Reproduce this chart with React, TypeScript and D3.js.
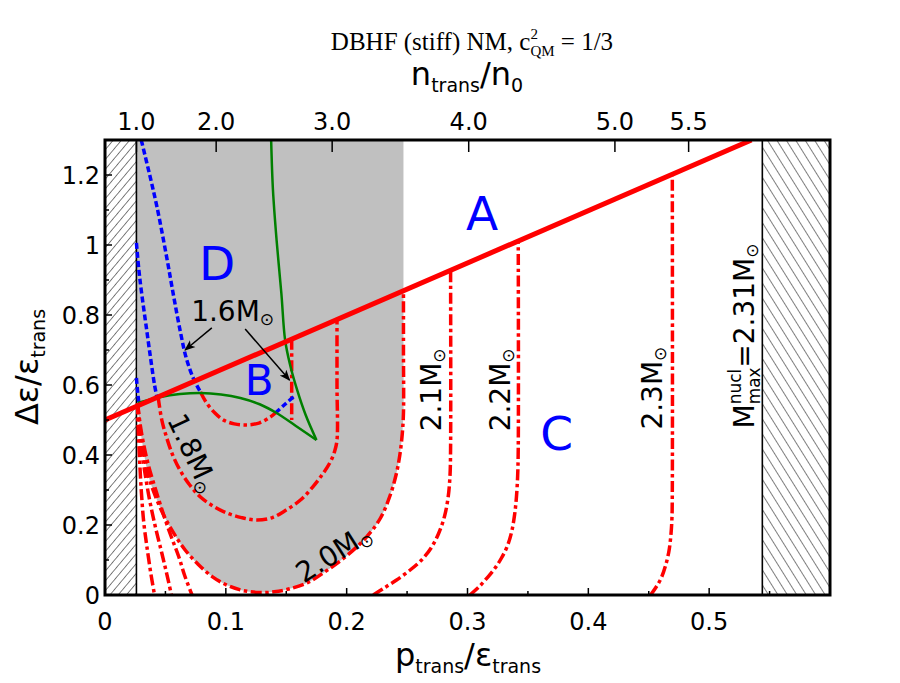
import React from 'react';
import * as d3 from 'd3';

// axes: p_trans/eps_trans (bottom), delta eps / eps_trans (left), n_trans/n0 (top)
const xDomain = [0, 0.6];
const yDomain = [0, 1.3];
const xTicks = [0, 0.1, 0.2, 0.3, 0.4, 0.5];
const xMinor = [0.05, 0.15, 0.25, 0.35, 0.45, 0.55];
const yTicks = [0, 0.2, 0.4, 0.6, 0.8, 1, 1.2];
const yMinor = [0.1, 0.3, 0.5, 0.7, 0.9, 1.1];
const topTickLabels = ['1.0', '2.0', '3.0', '4.0', '5.0', '5.5'];
const topTickPos = [0.026, 0.092, 0.188, 0.301, 0.422, 0.483];

const leftLimit = 0.026;   // n_trans = n0
const rightLimit = 0.544;  // M_max of nucleonic EoS

// Seidov line
const critLine = [[0, 0.5], [0.535, 1.3]];

// mass contours (red dash-dot)
const m16Red = [[0.079, 0.58], [0.084, 0.549], [0.091, 0.52], [0.098, 0.5], [0.107, 0.489], [0.117, 0.486], [0.128, 0.492], [0.137, 0.509], [0.141, 0.52]];
const m16Vert = [[0.1545, 0.732], [0.1545, 0.5]];
const m18 = [[0.044, 0.566], [0.047, 0.5], [0.051, 0.45], [0.056, 0.4], [0.062, 0.357], [0.07, 0.315], [0.079, 0.28], [0.09, 0.253], [0.101, 0.234], [0.113, 0.221], [0.126, 0.214], [0.139, 0.222], [0.15, 0.243], [0.162, 0.272], [0.172, 0.309], [0.18, 0.345], [0.186, 0.377], [0.19, 0.41], [0.192, 0.443], [0.192, 0.6], [0.192, 0.788]];
const m20 = [[0.027, 0.548], [0.029, 0.48], [0.032, 0.41], [0.036, 0.34], [0.042, 0.28], [0.049, 0.225], [0.057, 0.176], [0.066, 0.13], [0.077, 0.088], [0.089, 0.052], [0.101, 0.028], [0.114, 0.013], [0.128, 0.007], [0.14, 0.009], [0.152, 0.017], [0.168, 0.036], [0.184, 0.071], [0.2, 0.112], [0.216, 0.164], [0.228, 0.22], [0.236, 0.285], [0.241, 0.345], [0.244, 0.4], [0.246, 0.46], [0.247, 0.52], [0.247, 0.7], [0.247, 0.871]];
const m21 = [[0.222, 0], [0.231, 0.02], [0.241, 0.042], [0.252, 0.07], [0.262, 0.1], [0.27, 0.135], [0.276, 0.175], [0.281, 0.225], [0.284, 0.28], [0.2855, 0.34], [0.286, 0.42], [0.286, 0.929]];
const m22 = [[0.302, 0], [0.31, 0.025], [0.317, 0.052], [0.323, 0.078], [0.328, 0.105], [0.333, 0.14], [0.3365, 0.18], [0.339, 0.23], [0.3405, 0.28], [0.3415, 0.34], [0.342, 0.42], [0.342, 1.013]];
const m23 = [[0.4515, 0], [0.456, 0.022], [0.4605, 0.05], [0.464, 0.085], [0.4667, 0.125], [0.4683, 0.17], [0.4692, 0.22], [0.4695, 0.3], [0.4695, 1.204]];
const edgeA = [[0.027, 0.548], [0.0275, 0.47], [0.0285, 0.395], [0.030, 0.3], [0.032, 0.21], [0.035, 0.13], [0.038, 0.06], [0.041, 0]];
const edgeB = [[0.027, 0.548], [0.028, 0.48], [0.030, 0.42], [0.033, 0.35], [0.037, 0.27], [0.042, 0.19], [0.047, 0.12], [0.051, 0.062], [0.055, 0]];
const edgeC = [[0.027, 0.548], [0.029, 0.49], [0.032, 0.43], [0.036, 0.37], [0.042, 0.3], [0.049, 0.224], [0.055, 0.165], [0.061, 0.11], [0.066, 0.055], [0.072, 0]];

// blue dashed pieces
const m16Blue = [[0.030, 1.3], [0.037, 1.2], [0.043, 1.109], [0.051, 0.966], [0.057, 0.85], [0.0625, 0.75], [0.067, 0.68], [0.073, 0.62], [0.079, 0.58]];
const m16Blue2 = [[0.141, 0.52], [0.149, 0.545], [0.156, 0.566]];
const edgeBlue1 = [[0.026, 1.006], [0.028, 0.93], [0.030, 0.871], [0.0345, 0.757], [0.038, 0.67], [0.041, 0.6], [0.043, 0.565]];
const edgeBlue2 = [[0.026, 0.62], [0.027, 0.58], [0.028, 0.55]];

// green boundaries
const greenUpper = [[0.1375, 1.3], [0.139, 1.157], [0.142, 1.014], [0.146, 0.86], [0.149, 0.73], [0.153, 0.66], [0.159, 0.586], [0.166, 0.515], [0.175, 0.443]];
const greenLower = [[0.027, 0.549], [0.046, 0.566], [0.062, 0.574], [0.079, 0.577], [0.096, 0.573], [0.112, 0.563], [0.128, 0.545], [0.142, 0.52], [0.158, 0.483], [0.175, 0.443]];

const x = d3.scaleLinear().domain(xDomain).range([105, 830]);
const y = d3.scaleLinear().domain(yDomain).range([595, 140]);

const line = d3.line<number[]>()
    .x(d => x(d[0]))
    .y(d => y(d[1]))
    .curve(d3.curveCatmullRom.alpha(0.5));

const sans = 'DejaVu Sans, Verdana, sans-serif';
const sun = '\u2299';

const MassLabel = ({ px, py, rot, text }) => (
    <text transform={`translate(${x(px)},${y(py)}) rotate(${rot})`} textAnchor="middle" dy="0.35em" fontSize={28}>
        {text}<tspan fontSize={17} dy={4}>{sun}</tspan>
    </text>
);

export default function App() {
    const grayPath = `M${x(leftLimit)},${y(1.3)}L${x(m20[m20.length - 1][0])},${y(1.3)}`
        + line(m20.slice().reverse()).replace(/^M/, 'L') + 'Z';
    const redDash = { fill: 'none', stroke: '#ff0000', strokeWidth: 3.5, strokeDasharray: '11,3.5,3.5,3.5' };
    const blueDash = { fill: 'none', stroke: '#0000ff', strokeWidth: 3.5, strokeDasharray: '6,3' };
    const green = { fill: 'none', stroke: '#008000', strokeWidth: 2.5 };

    return (
        <svg width={900} height={683} style={{ position: 'absolute', left: 0, top: 0, display: 'block' }} fontFamily={sans}>
            <defs>
                <clipPath id="plot">
                    <rect x={x(0)} y={y(1.3)} width={x(0.6) - x(0)} height={y(0) - y(1.3)} />
                </clipPath>
                <pattern id="hatchL" patternUnits="userSpaceOnUse" width="6.3" height="10" patternTransform="rotate(40)">
                    <line x1="0" y1="0" x2="0" y2="10" stroke="black" strokeWidth="1" />
                </pattern>
                <pattern id="hatchR" patternUnits="userSpaceOnUse" width="8" height="10" patternTransform="rotate(-32)">
                    <line x1="0" y1="0" x2="0" y2="10" stroke="black" strokeWidth="1" />
                </pattern>
                <marker id="arrow" viewBox="0 0 10 10" refX="9" refY="5" markerWidth="11" markerHeight="11" markerUnits="userSpaceOnUse" orient="auto">
                    <path d="M0,1 L10,5 L0,9 L2.5,5 Z" fill="black" />
                </marker>
            </defs>

            {/* title */}
            <text x={472} y={50} textAnchor="middle" fontFamily="Liberation Serif, Times New Roman, serif" fontSize={25}>
                DBHF (stiff) NM, c<tspan fontSize={15} dy={-11}>2</tspan><tspan fontSize={15} dx={-7.5} dy={17}>QM</tspan><tspan fontSize={25} dy={-6}>{' = 1/3'}</tspan>
            </text>
            <text x={467} y={85} textAnchor="middle" fontSize={32}>
                n<tspan fontSize={19} dy={7}>trans</tspan><tspan fontSize={32} dy={-7}>/n</tspan><tspan fontSize={19} dy={7}>0</tspan>
            </text>

            <g clipPath="url(#plot)">
                <path d={grayPath} fill="#c0c0c0" />
                <rect x={x(0)} y={y(1.3)} width={x(leftLimit) - x(0)} height={y(0) - y(1.3)} fill="url(#hatchL)" />
                <rect x={x(rightLimit)} y={y(1.3)} width={x(0.6) - x(rightLimit)} height={y(0) - y(1.3)} fill="url(#hatchR)" />
                <line x1={x(leftLimit)} x2={x(leftLimit)} y1={y(0)} y2={y(1.3)} stroke="black" strokeWidth={1.6} />
                <line x1={x(rightLimit)} x2={x(rightLimit)} y1={y(0)} y2={y(1.3)} stroke="black" strokeWidth={1.6} />

                {[edgeA, edgeB, edgeC, m20, m18, m16Red, m16Vert, m21, m22, m23].map((d, i) =>
                    <path key={'r' + i} d={line(d)} style={redDash} />)}
                {[m16Blue, m16Blue2, edgeBlue1, edgeBlue2].map((d, i) =>
                    <path key={'b' + i} d={line(d)} style={blueDash} />)}
                <path d={line(greenUpper)} style={green} />
                <path d={line(greenLower)} style={green} />
                <path d={line(critLine)} fill="none" stroke="#ff0000" strokeWidth={5} />
            </g>

            {/* region labels */}
            <g fill="#0000ff" textAnchor="middle">
                <text x={x(0.312)} y={y(1.043)} fontSize={47}>A</text>
                <text x={x(0.0928)} y={y(0.9)} fontSize={47}>D</text>
                <text x={x(0.1276)} y={y(0.571)} fontSize={42}>B</text>
                <text x={x(0.3737)} y={y(0.414)} fontSize={47}>C</text>
            </g>

            {/* mass labels */}
            <text x={x(0.1056)} y={y(0.783)} textAnchor="middle" fontSize={28}>
                1.6M<tspan fontSize={17} dy={4}>{sun}</tspan>
            </text>
            <line x1={x(0.0884)} y1={y(0.763)} x2={x(0.0663)} y2={y(0.70)} stroke="black" strokeWidth={1.5} markerEnd="url(#arrow)" />
            <line x1={x(0.116)} y1={y(0.76)} x2={x(0.1527)} y2={y(0.614)} stroke="black" strokeWidth={1.5} markerEnd="url(#arrow)" />
            <MassLabel px={0.0729} py={0.406} rot={65} text="1.8M" />
            <MassLabel px={0.189} py={0.12} rot={-32.5} text="2.0M" />
            <MassLabel px={0.270} py={0.586} rot={-90} text="2.1M" />
            <MassLabel px={0.327} py={0.586} rot={-90} text="2.2M" />
            <MassLabel px={0.453} py={0.591} rot={-90} text="2.3M" />
            <text transform={`translate(${x(0.529)},${y(0.74)}) rotate(-90)`} textAnchor="middle" dy="0.35em" fontSize={28}>
                M<tspan fontSize={17} dy={6}>max</tspan><tspan fontSize={17} dx={-37} dy={-19}>nucl</tspan><tspan fontSize={28} dx={1} dy={13}>=2.31M</tspan><tspan fontSize={17} dy={4}>{sun}</tspan>
            </text>

            {/* frame and ticks */}
            <rect x={x(0)} y={y(1.3)} width={x(0.6) - x(0)} height={y(0) - y(1.3)} fill="none" stroke="black" strokeWidth={3} />
            <g stroke="black" strokeWidth={1.5}>
                {xTicks.map(v => <line key={'xt' + v} x1={x(v)} x2={x(v)} y1={y(0)} y2={y(0) - 7} />)}
                {xMinor.map(v => <line key={'xm' + v} x1={x(v)} x2={x(v)} y1={y(0)} y2={y(0) - 4} />)}
                {yTicks.map(v => <line key={'yt' + v} x1={x(0)} x2={x(0) + 7} y1={y(v)} y2={y(v)} />)}
                {yMinor.map(v => <line key={'ym' + v} x1={x(0)} x2={x(0) + 4} y1={y(v)} y2={y(v)} />)}
                {topTickPos.map(v => <line key={'tt' + v} x1={x(v)} x2={x(v)} y1={y(1.3)} y2={y(1.3) + 12} />)}
            </g>
            <g fontSize={24}>
                {xTicks.map(v => <text key={'xl' + v} x={x(v)} y={630} textAnchor="middle">{String(v)}</text>)}
                {yTicks.map(v => <text key={'yl' + v} x={100} y={y(v)} dy="0.36em" textAnchor="end">{String(v)}</text>)}
                {topTickLabels.map((t, i) => <text key={'tl' + t} x={x(topTickPos[i])} y={130} textAnchor="middle">{t}</text>)}
            </g>

            {/* axis titles */}
            <text x={468} y={666} textAnchor="middle" fontSize={32}>
                p<tspan fontSize={19} dy={7}>trans</tspan><tspan fontSize={32} dy={-7}>/ε</tspan><tspan fontSize={19} dy={7}>trans</tspan>
            </text>
            <text transform={`translate(38,367) rotate(-90)`} textAnchor="middle" fontSize={32}>
                Δε/ε<tspan fontSize={19} dy={7}>trans</tspan>
            </text>
        </svg>
    );
}
